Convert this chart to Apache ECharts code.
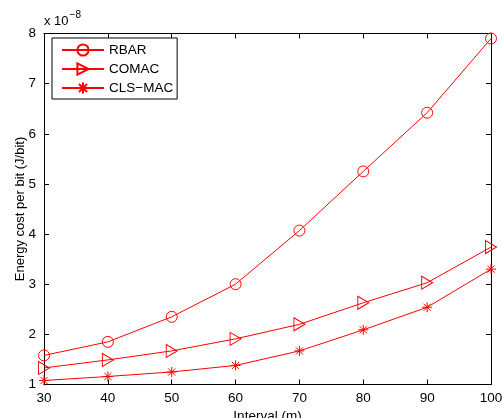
<!DOCTYPE html>
<html><head><meta charset="utf-8">
<script src="https://cdn.jsdelivr.net/npm/echarts@6/dist/echarts.min.js"></script>
<style>html,body{margin:0;padding:0;background:#fff}#c{width:502px;height:418px}</style>
</head><body><div id="c"></div>
<script>
const categories = [30, 40, 50, 60, 70, 80, 90, 100];
const rbar = [1.58, 1.85, 2.35, 3.0, 4.07, 5.25, 6.42, 7.9];
const comac = [1.33, 1.49, 1.67, 1.91, 2.2, 2.63, 3.03, 3.74];
const clsmac = [1.08, 1.16, 1.25, 1.38, 1.67, 2.09, 2.54, 3.3];
const yTicks = [1, 2, 3, 4, 5, 6, 7, 8];

const FONT = "'Liberation Sans', Arial, sans-serif";
const red = '#ff0000';
const asterisk = 'path://M0,-5L0,5M-5,0L5,0M-3.6,-3.6L3.6,3.6M-3.6,3.6L3.6,-3.6';
const triRight = 'path://M0,0L10,6L0,12Z';

function pairs(v) { return categories.map((c, i) => [c, v[i]]); }

const chart = echarts.init(document.getElementById('c'), null, {renderer: 'canvas'});
const axisCommon = {
  axisLine: {show: true, onZero: false, lineStyle: {color: '#000', width: 1}},
  axisTick: {show: true, inside: true, length: 5, lineStyle: {color: '#000'}},
  splitLine: {show: false}
};
function mkSeries(name, data, symbol, size) {
  return {
    name, type: 'line', data: pairs(data), symbol, symbolSize: size,
    showAllSymbol: true,
    lineStyle: {color: red, width: 1},
    itemStyle: {color: 'rgba(0,0,0,0)', borderColor: red, borderWidth: 1},
    emphasis: {disabled: true}, animation: false, z: 3
  };
}
chart.setOption({
  animation: false,
  textStyle: {fontFamily: FONT},
  grid: {left: 44, right: 11, top: 33.5, bottom: 33.5, containLabel: false, outerBoundsMode: 'none'},
  legend: {
    left: 52, top: 38, orient: 'vertical',
    padding: [5, 4, 4, 9], itemGap: 5, itemWidth: 42, itemHeight: 14,
    borderColor: '#000', borderWidth: 1, borderRadius: 0, backgroundColor: '#fff',
    textStyle: {fontFamily: FONT, fontSize: 13.5, color: '#000'},
    data: ['RBAR', 'COMAC', 'CLS\u2212MAC']
  },
  xAxis: [
    Object.assign({type: 'value', min: 30, max: 100, interval: 10, position: 'bottom',
      axisLabel: {color: '#000', fontSize: 13.5, fontFamily: FONT, margin: 7,
        formatter: v => categories.includes(v) ? String(v) : ''},
      name: 'Interval (m)', nameLocation: 'middle', nameGap: 25, nameMoveOverlap: false,
      nameTextStyle: {color: '#000', fontSize: 13.5, fontFamily: FONT}}, axisCommon),
    Object.assign({type: 'value', min: 30, max: 100, interval: 10, position: 'top',
      axisLabel: {show: false}}, axisCommon)
  ],
  yAxis: [
    Object.assign({type: 'value', min: 1, max: 8, interval: 1, position: 'left',
      axisLabel: {color: '#000', fontSize: 13.5, fontFamily: FONT, margin: 8,
        formatter: v => yTicks.includes(v) ? String(v) : ''},
      name: 'Energy cost per bit (J/bit)', nameLocation: 'middle', nameGap: 17, nameMoveOverlap: false,
      nameTextStyle: {color: '#000', fontSize: 13, fontFamily: FONT}}, axisCommon),
    Object.assign({type: 'value', min: 1, max: 8, interval: 1, position: 'right',
      axisLabel: {show: false}}, axisCommon)
  ],
  graphic: [{
    type: 'text', left: 44, top: 10,
    style: {
      text: '{a|x 10}{b|\u22128}',
      rich: {
        a: {fontSize: 13, fontFamily: FONT, fill: '#000', verticalAlign: 'bottom'},
        b: {fontSize: 10, fontFamily: FONT, fill: '#000', verticalAlign: 'top', padding: [0, 0, 8, 1]}
      }
    }
  }],
  series: [
    mkSeries('RBAR', rbar, 'circle', 11),
    mkSeries('COMAC', comac, triRight, [11, 13]),
    mkSeries('CLS\u2212MAC', clsmac, asterisk, 10)
  ]
});
</script></body></html>
